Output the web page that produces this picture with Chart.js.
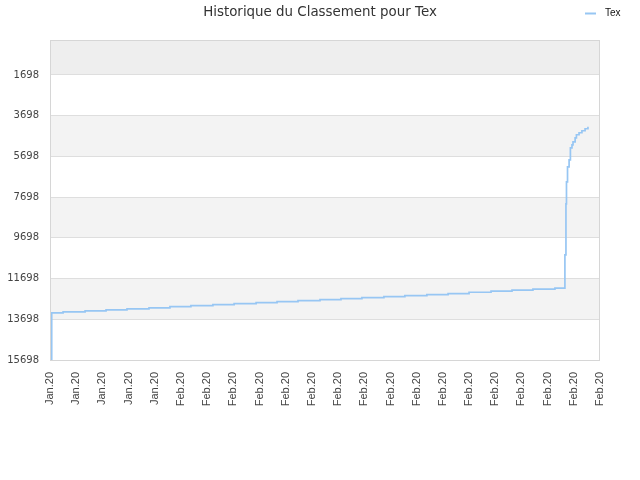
<!DOCTYPE html>
<html>
<head>
<meta charset="utf-8">
<script src="https://cdn.jsdelivr.net/npm/chart.js@4/dist/chart.umd.min.js"></script>
<style>
  html, body { margin: 0; padding: 0; background: #fff; }
  #wrap { width: 640px; height: 480px; }
</style>
</head>
<body>
<div id="wrap"><canvas id="chartClassement"></canvas></div>
<script>
// Données
const xLabels = ['Jan.20', 'Jan.20', 'Jan.20', 'Jan.20', 'Jan.20',
  'Feb.20', 'Feb.20', 'Feb.20', 'Feb.20', 'Feb.20', 'Feb.20', 'Feb.20', 'Feb.20', 'Feb.20',
  'Feb.20', 'Feb.20', 'Feb.20', 'Feb.20', 'Feb.20', 'Feb.20', 'Feb.20', 'Feb.20'];
const yTicks = [1698, 3698, 5698, 7698, 9698, 11698, 13698, 15698];

// position le long de l'axe (en index de libellé) et classement
const rankX = [0.06, 0.065, 0.50, 1.34, 2.14, 2.94, 3.78, 4.58, 5.38, 6.22, 7.03, 7.87, 8.67,
  9.47, 10.31, 11.11, 11.91, 12.75, 13.55, 14.39, 15.20, 16.00, 16.84, 17.64, 18.44, 19.28,
  19.66, 19.70, 19.72, 19.76, 19.82, 19.87, 19.93, 19.97, 20.05, 20.10, 20.20, 20.31, 20.43, 20.54];
const rankY = [15698, 13387, 13338, 13289, 13240, 13190, 13141, 13077, 13028, 12979, 12929, 12880, 12831,
  12782, 12732, 12683, 12634, 12585, 12536, 12486, 12437, 12369, 12319, 12270, 12221, 12172,
  10535, 8027, 6945, 6208, 5864, 5274, 5126, 4979, 4782, 4634, 4536, 4438, 4339, 4241];

const yMin = -22;
const yMax = 15698;
const bandes = [[yMin, 1698, '#eeeeee'], [3698, 5698, '#f3f3f3'], [7698, 9698, '#f3f3f3'], [11698, 13698, '#f3f3f3']];

// fonds alternés + cadre
const fondBandes = {
  id: 'fondBandes',
  beforeDraw(chart) {
    const { ctx, chartArea: a, scales: { y } } = chart;
    ctx.save();
    bandes.forEach(([de, a2, c]) => {
      const y1 = y.getPixelForValue(de), y2 = y.getPixelForValue(a2);
      ctx.fillStyle = c;
      ctx.fillRect(a.left, Math.min(y1, y2), a.right - a.left, Math.abs(y2 - y1));
    });
    ctx.restore();
  },
  afterDatasetsDraw(chart) {
    const { ctx, chartArea: a } = chart;
    ctx.save();
    ctx.strokeStyle = '#d6d6d6';
    ctx.lineWidth = 1;
    ctx.strokeRect(Math.round(a.left) + 0.5, Math.round(a.top) + 0.5,
      Math.round(a.right - a.left) - 1, Math.round(a.bottom - a.top));
    ctx.restore();
  }
};

// légende en haut à droite, sur la ligne du titre
const legendeCoin = {
  id: 'legendeCoin',
  afterDraw(chart) {
    const ctx = chart.ctx;
    const ds = chart.data.datasets[0];
    ctx.save();
    ctx.strokeStyle = ds.borderColor;
    ctx.lineWidth = 2;
    ctx.beginPath();
    ctx.moveTo(585, 13.5);
    ctx.lineTo(596, 13.5);
    ctx.stroke();
    ctx.fillStyle = '#111';
    ctx.font = '10px "Liberation Sans", Arial, sans-serif';
    ctx.textBaseline = 'middle';
    ctx.fillText(ds.label, 605, 13);
    ctx.restore();
  }
};

const ctx = document.getElementById('chartClassement').getContext('2d');
new Chart(ctx, {
  type: 'line',
  data: {
    datasets: [{
      label: 'Tex',
      data: rankX.map((x, i) => ({ x: x, y: rankY[i] })),
      borderColor: '#97c6f3',
      borderWidth: 1.7,
      stepped: true,
      pointRadius: 0,
      fill: false
    }]
  },
  options: {
    responsive: true,
    maintainAspectRatio: false,
    animation: false,
    layout: { padding: 0 },
    plugins: {
      legend: { display: false },
      tooltip: { enabled: false },
      title: {
        display: true,
        text: 'Historique du Classement pour Tex',
        color: '#333',
        font: { family: 'DejaVu Sans', size: 13.4, weight: 'normal' },
        padding: { top: 4.5, bottom: 19.4 }
      }
    },
    scales: {
      x: {
        type: 'linear',
        min: 0,
        max: xLabels.length - 1,
        afterBuildTicks: s => { s.ticks = xLabels.map((_, i) => ({ value: i })); },
        afterFit: s => { s.height = 120; },
        grid: { display: false, drawTicks: false },
        border: { display: false },
        ticks: {
          autoSkip: false,
          minRotation: 90,
          maxRotation: 90,
          padding: 12,
          color: '#444',
          font: { family: 'Liberation Sans', size: 11 },
          callback: (v, i) => xLabels[i]
        }
      },
      y: {
        type: 'linear',
        reverse: true,
        min: yMin,
        max: yMax,
        afterBuildTicks: s => { s.ticks = yTicks.map(v => ({ value: v })); },
        afterFit: s => { s.width = 50; },
        grid: { color: '#dedede', drawTicks: false },
        border: { display: false },
        ticks: {
          padding: 11,
          color: '#444',
          font: { family: 'DejaVu Sans', size: 10 },
          callback: v => String(v)
        }
      },
      // marge vide à droite de la zone de tracé
      margeDroite: {
        type: 'linear',
        position: 'right',
        afterFit: s => { s.width = 40; },
        grid: { display: false, drawTicks: false },
        border: { display: false },
        ticks: { display: false }
      }
    }
  },
  plugins: [fondBandes, legendeCoin]
});
</script>
</body>
</html>
